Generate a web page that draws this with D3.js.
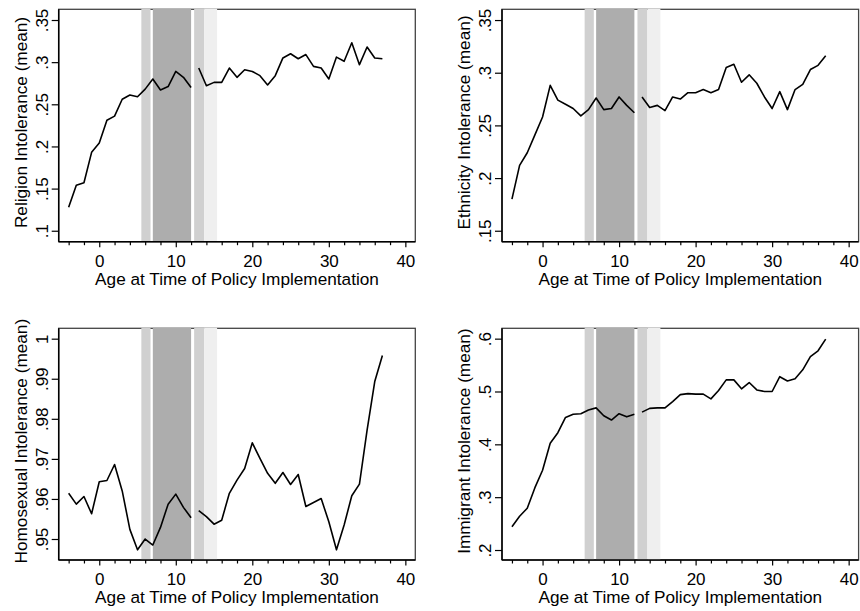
<!DOCTYPE html>
<html><head><meta charset="utf-8">
<script src="https://cdn.jsdelivr.net/npm/d3@7"></script>
<style>body{margin:0;background:#fff}svg{display:block}text{font-family:"Liberation Sans",Arial,Helvetica,sans-serif;fill:#000}</style>
</head><body><svg id="c" width="860" height="611"></svg>
<script>
// ---------- data ----------
const ages = [-4,-3,-2,-1,0,1,2,3,4,5,6,7,8,9,10,11,12,13,14,15,16,17,18,19,20,21,22,23,24,25,26,27,28,29,30,31,32,33,34,35,36,37];
const religion = [0.128,0.154,0.157,0.193,0.204,0.231,0.236,0.256,0.261,0.259,0.268,0.280,0.267,0.271,0.289,0.282,0.270,
  0.293,0.272,0.276,0.276,0.293,0.282,0.291,0.289,0.284,0.273,0.284,0.305,0.310,0.304,0.309,0.295,0.293,0.280,0.306,0.301,0.323,0.297,0.318,0.305,0.304];
const ethnicity = [0.180,0.212,0.224,0.241,0.258,0.288,0.274,0.270,0.266,0.259,0.265,0.276,0.265,0.266,0.277,0.269,0.262,
  0.277,0.267,0.269,0.264,0.277,0.275,0.281,0.281,0.284,0.281,0.284,0.305,0.308,0.291,0.298,0.290,0.277,0.266,0.282,0.265,0.284,0.289,0.303,0.307,0.316];
const homosexual = [0.9614,0.9587,0.9606,0.9563,0.9643,0.9646,0.9686,0.9620,0.9524,0.9473,0.9500,0.9485,0.9529,0.9587,0.9612,0.9579,0.9553,
  0.9571,0.9556,0.9537,0.9547,0.9614,0.9647,0.9676,0.9740,0.9701,0.9664,0.9639,0.9666,0.9636,0.9661,0.9581,0.9591,0.9601,0.9543,0.9473,0.9535,0.9608,0.9637,0.9772,0.9893,0.9958];
const immigrant = [0.244,0.264,0.279,0.318,0.351,0.402,0.422,0.451,0.457,0.458,0.465,0.469,0.454,0.446,0.458,0.452,0.457,
  0.461,0.468,0.469,0.469,0.481,0.494,0.496,0.495,0.495,0.486,0.502,0.522,0.522,0.505,0.517,0.503,0.500,0.500,0.528,0.520,0.524,0.541,0.566,0.577,0.599];
const lineBreakAfter = 12; // the line is interrupted between age 12 and 13

const yTitles = ["Religion Intolerance (mean)","Ethnicity Intolerance (mean)","Homosexual Intolerance (mean)","Immigrant Intolerance (mean)"];
const xTitle = "Age at Time of Policy Implementation";
const xMajorTicks = [0,10,20,30,40];
const xMinorTicks = [-4,-2,2,4,6,8,12,14,16,18,22,24,26,28,32,34,36,38];
const xDomain = [-5.3,41.3];

const yTicks1 = [0.1,0.15,0.2,0.25,0.3,0.35];
const yLabels1 = [".1",".15",".2",".25",".3",".35"];
const yTicks2 = [0.15,0.2,0.25,0.3,0.35];
const yLabels2 = [".15",".2",".25",".3",".35"];
const yTicks3 = [0.95,0.96,0.97,0.98,0.99,1];
const yLabels3 = [".95",".96",".97",".98",".99","1"];
const yTicks4 = [0.2,0.3,0.4,0.5,0.6];
const yLabels4 = [".2",".3",".4",".5",".6"];
const yDomains = [[0.087,0.3627],[0.1396,0.3602],[0.94476,1.00259],[0.1811,0.6196]];

// shaded periods (age ranges)
const bandStart = [5.5, 7.0, 12.4, 13.7];
const bandEnd   = [6.7, 12.0, 13.7, 15.4];
const bandColor = ["#d0d0d0","#adadad","#d0d0d0","#efefef"];

// ---------- layout ----------
const panels = [
  {x:58.7, y:9.3, h:232.4, values:religion, ticks:yTicks1, labels:yLabels1},
  {x:502, y:9.3, h:232.4, values:ethnicity, ticks:yTicks2, labels:yLabels2},
  {x:58.7, y:328.3, h:231.7, values:homosexual, ticks:yTicks3, labels:yLabels3},
  {x:502, y:328.3, h:231.7, values:immigrant, ticks:yTicks4, labels:yLabels4}
];
const W = 356.6;
const svg = d3.select("#c");
const FONT = '"Liberation Sans",Arial,sans-serif';

panels.forEach((p,i)=>{
  const g = svg.append("g").attr("transform",`translate(${p.x},${p.y})`);
  const x = d3.scaleLinear().domain(xDomain).range([0,W]);
  const y = d3.scaleLinear().domain(yDomains[i]).range([p.h,0]);

  // frame (top/right)
  g.append("rect").attr("x",0).attr("y",0).attr("width",W).attr("height",p.h)
    .attr("fill","#fff").attr("stroke","#444").attr("stroke-width",1.3);

  // bands
  g.selectAll("rect.band").data(bandStart).join("rect").attr("class","band")
    .attr("x",(d)=>x(d)).attr("width",(d,j)=>x(bandEnd[j])-x(d))
    .attr("y",-0.6).attr("height",p.h+0.6)
    .attr("fill",(d,j)=>bandColor[j]);

  // y axis
  const ya = d3.axisLeft(y).tickValues(p.ticks).tickFormat((d,j)=>p.labels[j]).tickSize(7).tickSizeOuter(0);
  const yg = g.append("g").call(ya);
  yg.select(".domain").remove();
  yg.selectAll(".tick line").attr("stroke","#000").attr("stroke-width",1.2);
  yg.selectAll(".tick text").attr("transform","rotate(-90)").attr("x",0).attr("y",-11)
    .attr("dy",0).attr("text-anchor","middle").style("font-size","17px").style("font-family",FONT);

  // x axis
  const xaMin = d3.axisBottom(x).tickValues(xMinorTicks).tickFormat("").tickSize(3.5).tickSizeOuter(0);
  const xm = g.append("g").attr("transform",`translate(0,${p.h})`).call(xaMin);
  xm.select(".domain").remove();
  xm.selectAll(".tick line").attr("stroke","#000").attr("stroke-width",1.2);
  const xa = d3.axisBottom(x).tickValues(xMajorTicks).tickFormat(d3.format("d")).tickSize(5.5).tickSizeOuter(0);
  const xg = g.append("g").attr("transform",`translate(0,${p.h})`).call(xa);
  xg.select(".domain").remove();
  xg.selectAll(".tick line").attr("stroke","#000").attr("stroke-width",1.2);
  xg.selectAll(".tick text").attr("y",25).attr("dy",0).style("font-size","17px").style("font-family",FONT);

  // left and bottom axis lines
  g.append("line").attr("x1",0).attr("x2",0).attr("y1",0).attr("y2",p.h).attr("stroke","#000").attr("stroke-width",1.5);
  g.append("line").attr("x1",0).attr("x2",W).attr("y1",p.h).attr("y2",p.h).attr("stroke","#000").attr("stroke-width",1.5);

  // data line in two segments
  const pts = ages.map((a,j)=>({a, v:p.values[j]}));
  const line = d3.line().x(d=>x(d.a)).y(d=>y(d.v));
  [pts.filter(d=>d.a<=lineBreakAfter), pts.filter(d=>d.a>lineBreakAfter)].forEach(seg=>{
    g.append("path").datum(seg).attr("d",line).attr("fill","none")
      .attr("stroke","#000").attr("stroke-width",1.6).attr("stroke-linejoin","round");
  });

  // titles
  g.append("text").attr("x",W/2).attr("y",p.h+43.3).attr("text-anchor","middle")
    .style("font-size","17.2px").text(xTitle);
  g.append("text").attr("transform",`translate(${-32},${p.h/2 - 3}) rotate(-90)`)
    .attr("text-anchor","middle").style("font-size","17.2px").text(yTitles[i]);
});
</script></body></html>
